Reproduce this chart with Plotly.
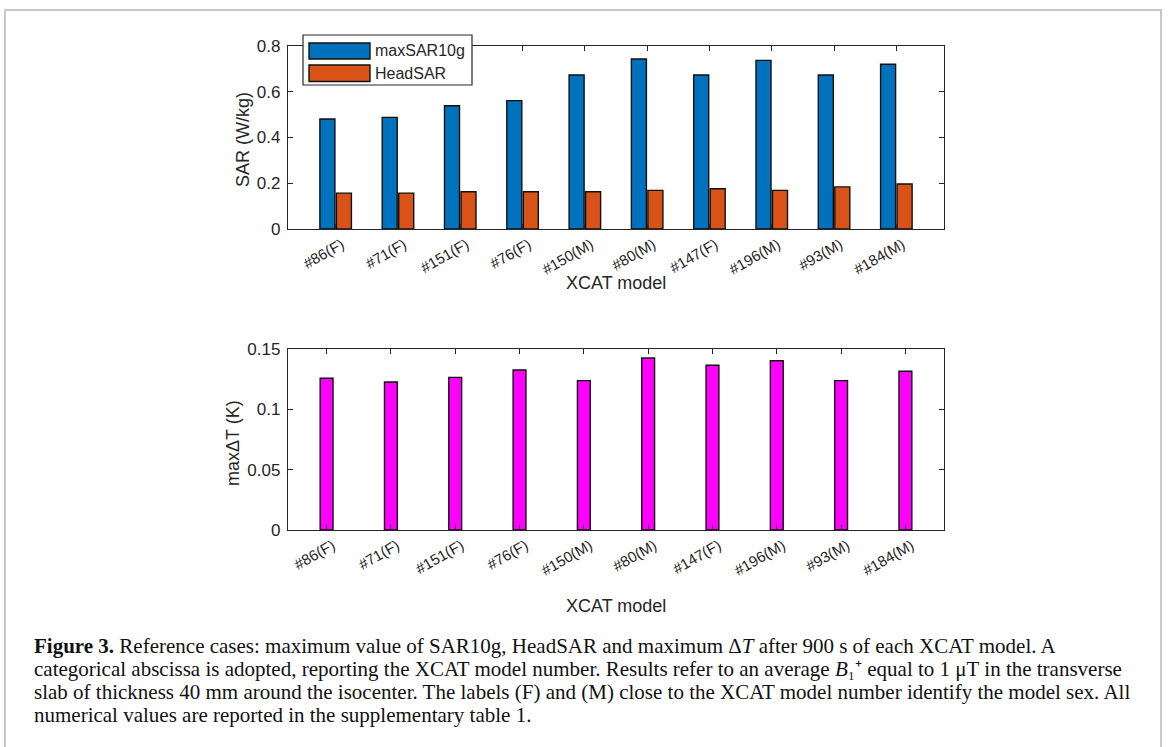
import plotly.graph_objects as go

models = ["#86(F)", "#71(F)", "#151(F)", "#76(F)", "#150(M)", "#80(M)", "#147(F)", "#196(M)", "#93(M)", "#184(M)"]
max_sar10g = [0.481, 0.488, 0.539, 0.561, 0.673, 0.743, 0.673, 0.737, 0.673, 0.720]
head_sar = [0.157, 0.157, 0.163, 0.163, 0.163, 0.169, 0.176, 0.169, 0.184, 0.197]
max_delta_t = [0.1257, 0.1226, 0.1265, 0.1326, 0.1238, 0.1425, 0.1365, 0.1403, 0.1238, 0.1315]
sar_ticks = [0, 0.2, 0.4, 0.6, 0.8]
sar_ticklabels = ["0", "0.2", "0.4", "0.6", "0.8"]
dt_ticks = [0, 0.05, 0.1, 0.15]
dt_ticklabels = ["0", "0.05", "0.1", "0.15"]
series_names = ["maxSAR10g", "HeadSAR"]
series_colors = ["#0072BD", "#D95319"]
caption_lines = [
    "<b>Figure 3.</b> Reference cases: maximum value of SAR10g, HeadSAR and maximum Δ<i>T</i> after 900 s of each XCAT model. A",
    "categorical abscissa is adopted, reporting the XCAT model number. Results refer to an average <i>B</i>₁⁺ equal to 1 μT in the transverse",
    "slab of thickness 40 mm around the isocenter. The labels (F) and (M) close to the XCAT model number identify the model sex. All",
    "numerical values are reported in the supplementary table 1.",
]

W, H = 1168, 747
AX = "#262626"
FONT = "Liberation Sans, Arial, sans-serif"
SERIF = "Liberation Serif, Times New Roman, serif"


def px(x):
    return x / W


def py(y):
    return 1 - y / H


fig = go.Figure()
fig.add_trace(go.Bar(x=models, y=max_sar10g, name=series_names[0], showlegend=False,
                     marker=dict(color=series_colors[0], line=dict(color="#111111", width=1.4)), xaxis="x", yaxis="y"))
fig.add_trace(go.Bar(x=models, y=head_sar, name=series_names[1], showlegend=False,
                     marker=dict(color=series_colors[1], line=dict(color="#111111", width=1.4)), xaxis="x", yaxis="y"))
fig.add_trace(go.Bar(x=models, y=max_delta_t, name="maxΔT", showlegend=False,
                     marker=dict(color="#FF00FF", line=dict(color="#111111", width=1.4)), xaxis="x2", yaxis="y2", width=0.2))

xd = [px(288), px(944)]
common_x = dict(showline=True, linecolor=AX, linewidth=1.4, mirror="ticks", ticks="inside", ticklen=5, tickcolor=AX,
                tickangle=-30, tickfont=dict(family=FONT, size=15, color=AX), automargin=False, showgrid=False,
                domain=xd, ticklabelshift=6, ticklabelstandoff=0)
common_y = dict(showline=True, linecolor=AX, linewidth=1.4, mirror="ticks", ticks="inside", ticklen=5, tickcolor=AX,
                tickfont=dict(family=FONT, size=17, color=AX), automargin=False, showgrid=False, zeroline=False,
                ticklabelstandoff=3)

fig.update_layout(
    width=W, height=H, margin=dict(l=0, r=0, t=0, b=0),
    paper_bgcolor="white", plot_bgcolor="white",
    barmode="group", bargap=0.47, bargroupgap=0.09,
    xaxis=dict(common_x, range=[-0.765, 9.765], anchor="y"),
    yaxis=dict(common_y, range=[0, 0.8], tickvals=sar_ticks, ticktext=sar_ticklabels,
               domain=[py(229), py(46)], anchor="x"),
    xaxis2=dict(common_x, range=[-0.6, 9.6], anchor="y2"),
    yaxis2=dict(common_y, range=[0, 0.15], tickvals=dt_ticks, ticktext=dt_ticklabels,
                domain=[py(530), py(349)], anchor="x2"),
    showlegend=False,
)

# outer frame
fig.add_shape(type="rect", xref="paper", yref="paper", x0=px(5), x1=px(1161), y0=-0.05, y1=py(10),
              line=dict(color="#c8c8c8", width=2), fillcolor="rgba(0,0,0,0)", layer="below")

# axis titles
title_font = dict(family=FONT, size=18, color=AX)
fig.add_annotation(text="XCAT model", xref="paper", yref="paper", x=px(616), y=py(283), showarrow=False,
                   xanchor="center", yanchor="middle", font=title_font)
fig.add_annotation(text="XCAT model", xref="paper", yref="paper", x=px(616), y=py(606), showarrow=False,
                   xanchor="center", yanchor="middle", font=title_font)
fig.add_annotation(text="SAR (W/kg)", xref="paper", yref="paper", x=px(243), y=py(140), showarrow=False,
                   textangle=-90, xanchor="center", yanchor="middle", font=title_font)
fig.add_annotation(text="maxΔT (K)", xref="paper", yref="paper", x=px(233), y=py(443), showarrow=False,
                   textangle=-90, xanchor="center", yanchor="middle", font=title_font)

# legend box (drawn like MATLAB's)
fig.add_shape(type="rect", xref="paper", yref="paper", x0=px(303), x1=px(472), y0=py(85), y1=py(35),
              line=dict(color=AX, width=1.2), fillcolor="white", layer="above")
legend_rows = [(43, 59), (65, 81.5)]
for name, color, (t, b) in zip(series_names, series_colors, legend_rows):
    fig.add_shape(type="rect", xref="paper", yref="paper", x0=px(309), x1=px(370), y0=py(b), y1=py(t),
                  line=dict(color="#111111", width=1.4), fillcolor=color, layer="above")
    fig.add_annotation(text=name, xref="paper", yref="paper", x=px(373), y=py((t + b) / 2), showarrow=False,
                       xanchor="left", yanchor="middle", font=dict(family=FONT, size=16, color=AX))

# caption
for i, line in enumerate(caption_lines):
    fig.add_annotation(text=line, xref="paper", yref="paper", x=px(32), y=py(645.5 + 23.3 * i), xanchor="left",
                       yanchor="middle", align="left", showarrow=False,
                       font=dict(family=SERIF, size=21, color="#111111"))

fig.write_html("out.html", config={"displayModeBar": False},
               post_script="document.body.style.margin='0';document.body.style.overflow='hidden';")
